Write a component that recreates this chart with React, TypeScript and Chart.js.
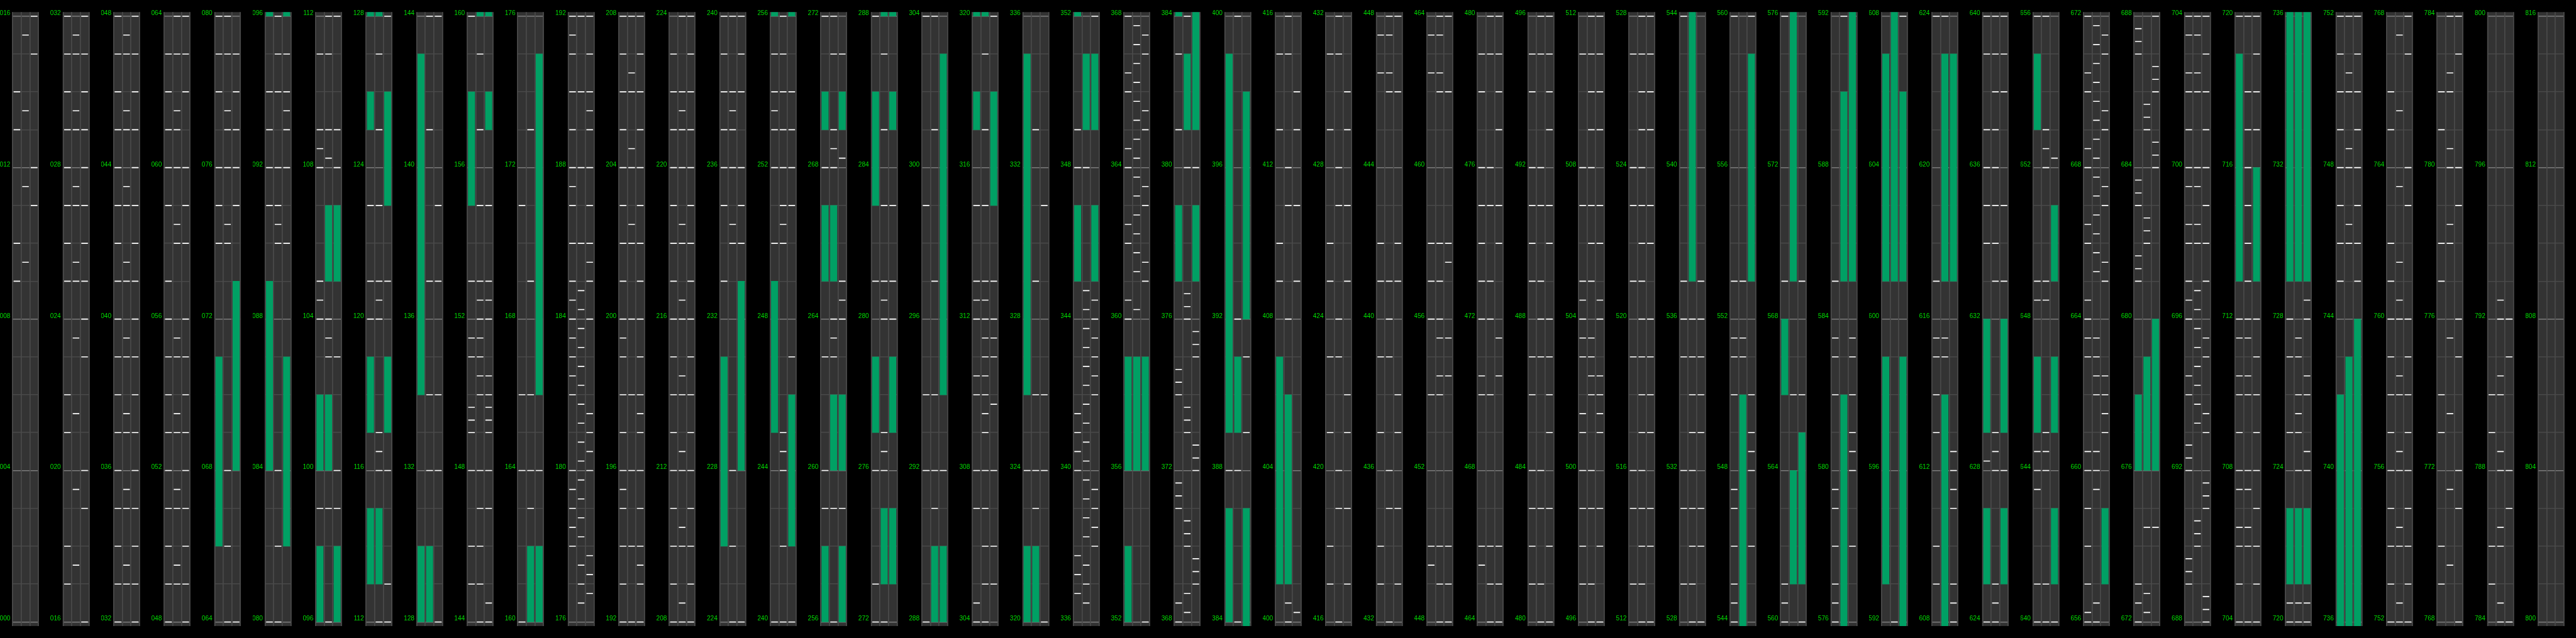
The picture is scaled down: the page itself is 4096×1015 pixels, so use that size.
import React, { useEffect, useRef } from 'react';
import { Chart, registerables } from 'chart.js';

Chart.register(...registerables);

// ---------- data (beat positions) ----------
const LANES = ['L0', 'L1', 'L2'];
const PANEL_COUNT = 51;
const PANEL_SPAN = 16;
const LABEL_STEP = 4;

const NOTES_L0 = [
  9, 10, 13, 14,
  17, 18, 21, 22, 25, 26, 27, 28, 29, 30, 31, 32,
  33, 34, 35, 36, 37, 38, 39, 40, 41, 42, 43, 44, 45, 46, 47, 48,
  49, 50, 51, 52, 53, 54, 55, 56, 57, 59, 60, 61, 62, 63,
  74, 75, 76, 78, 79, 80,
  91, 92, 93, 94,
  99, 104, 104.5, 105, 108, 108.5, 109, 111,
  120, 121, 123,
  145, 146, 148, 149, 149.33, 149.67, 151, 151.5, 153, 160,
  164, 166, 171,
  178, 178.5, 179, 179.5, 180, 182, 182.5, 183, 183.5, 184, 184.5, 185, 186, 187, 187.5, 188, 189, 190, 191, 191.5, 192,
  193, 194, 195, 195.5, 196, 197, 198, 199, 199.5, 200, 201, 202, 203, 204, 205, 206, 207, 208,
  209, 210, 211, 212, 213, 214, 215, 216, 217, 218, 219, 220, 221, 222, 223,
  233, 235, 236, 237, 238, 239, 240,
  250, 252, 253, 253.5, 254, 255,
  259, 260, 263, 268, 272,
  273, 276, 281, 288,
  292, 294, 299, 304,
  304.5, 307, 308, 310, 310.5, 312, 312.5, 313, 315,
  324,
  336.75, 337.25, 337.75, 340, 340.5, 341, 341.5, 348, 349,
  360, 360.5, 362, 362.5, 364, 364.5, 366, 366.5, 368,
  368.5, 371, 371.33, 371.67, 374, 374.33, 374.67, 381, 383,
  388,
  409, 410, 413, 415,
  417, 418, 421, 423, 425, 426, 429, 431,
  433, 434, 437, 439, 441, 442, 446.5, 447.5,
  449.5, 450, 454, 456, 457, 458, 462.5, 463.5,
  465.5, 466, 470, 470.5, 472, 473, 474, 475, 476, 478, 479,
  481, 482, 483, 484, 486, 487, 489, 490, 491, 492, 494, 495,
  497, 498, 499, 500, 501, 501.5, 503, 503.5, 504, 504.5, 505, 507, 508, 511,
  513, 515, 516, 519, 521, 523, 524, 527,
  529, 531, 532, 535, 536, 537, 544,
  544.5, 545, 546, 547, 547.5, 550, 551, 551.5, 553, 560,
  560.5, 561, 569, 576,
  576.5, 577, 578, 579, 579.5, 582, 583, 583.5, 585,
  609, 610, 613, 614, 615, 615.5, 617, 624,
  628.25, 634, 635, 636, 637, 639, 640,
  641, 643.5, 644, 644.5, 648.5, 649,
  656, 656.25, 657, 658, 659, 660, 660.5, 663, 663.5, 664, 664.5, 666, 666.5, 668, 668.5, 670, 670.5, 672,
  672.5, 673, 681, 681.33, 681.67, 683, 683.33, 683.67, 687, 687.33, 687.67,
  689, 689.33, 689.67, 692, 692.33, 692.67, 694, 694.5, 696, 696.5, 697, 698, 698.5, 699.5, 700, 701, 702, 702.5, 703.5, 704,
  705, 706, 706.5, 707.5, 708, 709, 710, 710.5, 711.5, 712, 720,
  720.5, 725, 727, 728,
  745, 746, 747, 748, 749, 750, 751, 752,
  753, 754, 755, 756, 757, 758, 759, 760, 761, 762, 765, 766,
  769, 770, 773, 774, 777, 778, 781, 782,
  785, 786, 789, 790,
];

const NOTES_L1 = [
  9.5, 11.5, 13.5, 15.5,
  17.5, 19.5, 21.5, 23.5, 25, 25.5, 27, 27.5, 29, 29.5, 31, 31.5,
  33, 33.5, 35, 35.5, 37, 37.5, 39, 39.5, 41, 41.5, 43, 43.5, 45, 45.5, 47, 47.5,
  49, 49.5, 51, 51.5, 53, 53.5, 55, 55.5, 58, 58.5, 60, 61, 61.5, 63, 64,
  66, 68, 74, 74.5, 76, 77, 77.5, 79, 80,
  82, 84, 90, 90.5, 91, 92, 94, 95, 96,
  99, 103, 103.5, 104, 108.25, 109, 111, 112,
  116, 116.5, 117, 120, 120.5, 121, 123, 125, 127,
  132, 134, 137, 141, 144,
  145, 146, 147, 148, 150, 150.5, 151, 151.5, 152, 152.5, 153, 155, 157, 159,
  163, 164, 166, 169, 173,
  176.5, 177, 177.5, 178.25, 178.75, 179.25, 179.75, 180.25, 180.75, 181.25, 181.75, 182.25, 182.75, 183.25, 183.75, 184.25, 184.75, 186, 188, 190, 192,
  194, 196, 198, 200, 202, 202.5, 204, 204.5, 206, 206.5, 208,
  208.5, 210, 210.5, 212, 212.5, 214, 214.5, 216, 216.5, 218, 218.5, 220, 221, 221.5, 222, 224,
  226, 228, 234, 234.5, 236, 237, 237.5, 238, 240,
  242, 244, 244.5, 245, 250, 250.5, 251, 252, 253, 254, 255, 256,
  259, 263, 263.5, 264, 268, 268.5, 269, 271, 272,
  276, 276.5, 277, 280, 280.5, 281, 283, 285, 287,
  291, 292, 294, 297, 301, 304,
  305, 306, 307, 308, 309, 309.5, 310, 310.5, 311, 311.5, 312, 312.5, 313, 315, 317, 319,
  323, 324, 326, 329, 333,
  336.5, 337, 337.5, 338.25, 338.75, 339.25, 339.75, 340.25, 340.75, 341.25, 341.75, 342.25, 342.75, 343.25, 343.75, 344.25, 344.75, 348,
  360.25, 361.25, 361.75, 362.25, 362.75, 363.25, 363.75, 364.25, 364.75, 365.25, 365.75, 366.25, 366.75, 367.25, 367.75,
  368.25, 368.75, 370, 370.33, 370.67, 373, 373.33, 373.67, 376, 376.33, 376.67, 380, 384,
  388, 392, 400,
  400.5, 408, 411, 412, 415, 416,
  419, 420, 423, 424, 427, 428, 431, 432,
  435, 436, 439, 440, 441, 446, 446.5, 447.5, 448,
  449, 450, 454, 454.5, 455.5, 456, 457, 458, 462, 462.5, 463.5, 464,
  465, 466, 470, 472, 473, 475, 476, 479, 480,
  481, 483, 484, 487, 488, 489, 491, 492, 495, 496,
  497, 499, 500, 502, 502.5, 503, 503.5, 505, 506, 507, 508, 509, 510, 511, 512,
  513, 514, 515, 516, 517, 518, 519, 520, 521, 522, 523, 524, 525, 526, 527, 528,
  529, 530, 531, 532, 533, 534, 535, 536,
  551, 551.5, 553,
  566,
  592,
  615, 615.5, 624,
  624.5, 625, 628, 628.5, 629, 633, 634, 635, 636, 637, 638, 639, 640,
  641, 644, 644.5, 645, 648.5, 649, 652, 652.5, 653, 656,
  656.5, 659.5, 660, 660.5, 662, 662.5, 663, 663.5, 665.25, 665.75, 666.25, 666.75, 667.25, 667.75, 668.25, 668.75, 669.25, 669.75, 670.25, 670.75, 671.25, 671.75,
  672.25, 672.75, 674.5, 682, 682.33, 682.67, 685, 685.33, 685.67,
  690, 690.33, 690.67, 693.25, 693.75, 694.25, 694.75, 695.25, 695.75, 696.25, 696.75, 698, 698.5, 699.5, 700, 702, 702.5, 703.5, 704,
  706, 706.5, 707.5, 708, 710, 710.5, 711.5, 712, 713, 714, 715, 716, 717, 718, 720,
  720.5, 724, 725, 725.5, 726, 727, 727.5,
  746, 746.5, 748, 748.5, 750, 750.5, 752,
  752.5, 754, 754.5, 756, 756.5, 758, 758.5, 760, 760.5, 761.5, 763.5, 765.5, 767.5,
  769.5, 771.5, 773.5, 775.5, 778, 778.5, 780, 780.5, 782, 782.5, 784,
  784.5, 786, 786.5, 788, 788.5, 790, 790.5, 792, 792.5,
];

const NOTES_L2 = [
  11, 12, 15, 16,
  19, 20, 23, 24, 25, 26, 27, 28, 29, 30, 31, 32,
  33, 34, 35, 36, 37, 38, 39, 40, 41, 42, 43, 44, 45, 46, 47, 48,
  49, 50, 51, 52, 53, 54, 55, 56, 58, 59, 60, 62, 63, 64,
  75, 76, 77, 78, 79,
  90, 92, 93, 93.5, 94, 95,
  99, 100, 103, 108, 109, 112,
  113, 116, 121, 128,
  132, 134, 137, 139, 144,
  144.5, 147, 148, 149, 149.33, 149.67, 150, 150.5, 152, 152.5, 153, 155,
  164,
  176.75, 177.25, 177.75, 180, 180.5, 181, 181.5, 184, 185, 185.5, 186, 187, 188, 189, 189.5, 190, 191, 192,
  193, 193.5, 194, 195, 196, 197, 197.5, 198, 199, 200, 201, 202, 203, 204, 205, 206, 207, 208,
  209, 210, 211, 212, 213, 214, 215, 216, 217, 218, 219, 220, 221, 222, 223, 224,
  234, 235, 236, 238, 239, 240,
  247, 251, 252, 253, 254,
  259, 264, 264.5, 265, 268.25, 271,
  280, 281, 283,
  292,
  305, 306, 308, 309.75, 311, 311.5, 312, 313, 320,
  324, 326, 331,
  338, 338.5, 339, 339.5, 342, 342.5, 343, 343.5, 344, 344.5, 352,
  361, 361.5, 363, 363.5, 365, 365.5, 367, 367.5,
  369, 369.33, 369.67, 372, 372.33, 372.67, 375, 375.33, 375.67, 380,
  389, 391,
  400.25, 409, 411, 413, 414,
  417, 419, 421, 422, 425, 427, 429, 430,
  433, 435, 437, 438, 441, 442, 446, 448,
  449, 450, 454.5, 455.5, 457.5, 458, 462, 464,
  465, 466, 470.5, 471.5, 474, 475, 477, 478, 479, 480,
  482, 483, 485, 486, 487, 488, 490, 491, 493, 494, 495, 496,
  498, 499, 501, 501.5, 502, 502.5, 504, 504.5, 506, 507, 509, 510, 511, 512,
  514, 515, 517, 518, 519, 520, 522, 523, 525, 526, 527, 528,
  530, 531, 533, 534, 535, 536, 537,
  546, 548, 548.5, 549, 550, 560,
  566, 569,
  578, 580, 580.5, 581, 582, 583, 583.5,
  608, 608.5, 609, 611, 611.5, 612, 612.5,
  628, 633, 635, 638, 639, 640,
  652.25,
  661, 661.5, 662, 662.5, 665, 665.5, 667, 667.5, 669, 669.5, 671, 671.5,
  674.5, 684, 684.33, 684.67, 686, 686.33, 686.67, 688,
  688.33, 688.67, 691, 691.33, 691.67, 693, 693.5, 695, 695.5, 697, 698, 699, 700, 701, 702, 703, 704,
  705, 706, 707, 708, 709, 710, 711, 712, 717, 718, 719, 720,
  720.5, 724, 724.5, 726, 726.5, 728, 728.5,
  745, 746, 747, 748, 749, 750, 751, 752,
  753, 754, 755, 756, 757, 758, 759, 760, 763, 764, 767, 768,
  771, 772, 775, 776, 779, 780, 783, 784,
  787, 788, 791, 792,
];

const HOLDS_L0 = [
  [66, 71], [84, 89], [96, 98], [100, 102], [113, 115], [117, 119], [125, 126], [128, 130],
  [134, 143], [155, 158], [226, 231], [245, 249], [256, 258], [265, 267], [269, 270], [277, 279],
  [283, 286], [317, 318], [320, 322], [326, 335], [345, 347], [352, 354], [356, 359], [377, 379],
  [384, 387], [389, 399], [401, 407], [566, 568], [593, 599], [601, 607], [625, 627], [629, 632],
  [645, 647], [653, 655], [676, 678], [713, 719], [721, 723], [729, 742],
];

const HOLDS_L1 = [
  [100, 102], [105, 107], [113, 115], [128, 130], [160, 162], [260, 262], [265, 267], [273, 275],
  [288, 290], [320, 322], [349, 351], [356, 359], [381, 383], [389, 391], [401, 406], [537, 550],
  [561, 564], [569, 582], [585, 590], [601, 614], [617, 623], [676, 679], [721, 723], [729, 743],
];

const HOLDS_L2 = [
  [68, 73], [82, 87], [96, 98], [105, 107], [117, 119], [123, 126], [157, 158], [160, 162],
  [166, 175], [228, 233], [242, 246], [256, 258], [260, 262], [269, 270], [273, 275], [277, 279],
  [285, 286], [288, 290], [294, 303], [315, 318], [345, 347], [349, 351], [356, 359], [377, 379],
  [381, 387], [392, 398], [553, 559], [561, 565], [585, 599], [601, 606], [617, 623], [625, 627],
  [629, 632], [641, 643], [645, 647], [649, 651], [657, 659], [676, 680], [713, 716], [721, 723],
  [729, 744],
];

// ---------- styling / geometry (reference pixels, scaled by S) ----------
const S = 4096 / 5100;
const REF_H = 1264;
const SLOT = 100;
const AREA_L = 25;
const AREA_R = 76;
const AREA_T = 24;
const AREA_B = 1240;
const UNIT_PX = 75;
const GRID_TOP_REF = 32;

const BG = '#000000';
const PANEL_BG = '#333333';
const GRID_MINOR = '#494949';
const GRID_MAJOR = '#7c7c7c';
const GRID_V = '#4b4b4b';
const NOTE_COLOR = '#ffffff';
const HOLD_COLOR = '#00a064';
const LABEL_COLOR = '#00dc00';
const FONT_FAMILY = "'Liberation Sans', Arial, Helvetica, sans-serif";

const NOTES = [NOTES_L0, NOTES_L1, NOTES_L2];
const HOLDS = [HOLDS_L0, HOLDS_L1, HOLDS_L2];

const panelBg = {
  id: 'panelBg',
  beforeDraw(chart: any) {
    const a = chart.chartArea;
    if (!a) return;
    const ctx = chart.ctx;
    ctx.save();
    ctx.fillStyle = PANEL_BG;
    ctx.fillRect(a.left - 1 * S, a.top, a.right - a.left + 2 * S, a.bottom - a.top);
    ctx.restore();
  },
};

function pad3(v: number) {
  return String(Math.round(v)).padStart(3, '0');
}

function Panel({ k }: { k: number }) {
  const ref = useRef<HTMLCanvasElement | null>(null);
  const left = Math.round(k * SLOT * S);
  const right = Math.round((k + 1) * SLOT * S);
  const width = right - left;
  const height = Math.round(REF_H * S);

  useEffect(() => {
    const canvas = ref.current;
    if (!canvas) return;
    const lo = k * PANEL_SPAN;
    const hi = lo + PANEL_SPAN;
    const extra = (GRID_TOP_REF - AREA_T) / UNIT_PX;
    const yMin = lo - extra;
    const yMax = hi + extra;

    const holdData: any[] = [];
    const noteData: any[] = [];
    LANES.forEach((lane, i) => {
      HOLDS[i].forEach(([a, b]) => {
        if (b > yMin && a < yMax) holdData.push({ x: lane, y: [a, b] });
      });
      NOTES[i].forEach((v) => {
        if (v >= lo - 0.01 && v <= hi + 0.01) noteData.push({ x: lane, y: v });
      });
    });

    const axisW = (AREA_L + k * SLOT) * S - left;
    const padRight = width - ((AREA_R + k * SLOT) * S - left);
    const padTop = AREA_T * S;
    const padBottom = height - AREA_B * S;

    const tickValues: number[] = [];
    for (let v = lo; v <= hi; v++) tickValues.push(v);

    const chart = new Chart(canvas, {
      type: 'bar',
      data: {
        labels: LANES,
        datasets: [
          {
            type: 'line',
            data: noteData,
            showLine: false,
            pointStyle: 'line',
            pointRadius: 6.5 * S,
            pointHoverRadius: 6.5 * S,
            pointBorderWidth: 2 * S,
            pointBorderColor: NOTE_COLOR,
            pointBackgroundColor: NOTE_COLOR,
            clip: 2,
            order: 1,
          } as any,
          {
            type: 'bar',
            data: holdData,
            backgroundColor: HOLD_COLOR,
            borderWidth: 0,
            barThickness: 13 * S,
            clip: 0,
            order: 2,
          } as any,
        ],
      },
      options: {
        animation: false,
        responsive: false,
        maintainAspectRatio: false,
        events: [],
        layout: { padding: { left: 0, right: padRight, top: padTop, bottom: padBottom } },
        plugins: { legend: { display: false }, tooltip: { enabled: false } },
        scales: {
          y: {
            type: 'linear',
            min: yMin,
            max: yMax,
            bounds: 'data',
            afterFit: (s: any) => {
              s.width = axisW;
            },
            afterBuildTicks: (s: any) => {
              s.ticks = tickValues.map((v) => ({ value: v }));
            },
            grid: {
              color: (c: any) =>
                c.tick && c.tick.value % LABEL_STEP === 0 ? GRID_MAJOR : GRID_MINOR,
              lineWidth: 2 * S,
              drawTicks: false,
            },
            border: { display: false },
            ticks: {
              autoSkip: false,
              padding: 4.6 * S,
              labelOffset: -6 * S,
              color: LABEL_COLOR,
              font: { family: FONT_FAMILY, size: 12.6 * S },
              callback: (v: any) => (Number(v) % LABEL_STEP === 0 ? pad3(Number(v)) : ''),
            },
          },
          x: {
            type: 'category',
            offset: true,
            grid: { offset: true, color: GRID_V, lineWidth: 2 * S, drawTicks: false },
            border: { display: false },
            ticks: { display: false },
            afterFit: (s: any) => {
              s.height = 0;
            },
          },
        },
      } as any,
      plugins: [panelBg],
    });
    return () => chart.destroy();
  }, [k]);

  return (
    <canvas
      ref={ref}
      width={width}
      height={height}
      style={{ position: 'absolute', left, top: 0, width, height, display: 'block' }}
    />
  );
}

export default function App() {
  useEffect(() => {
    document.body.style.margin = '0';
    document.body.style.background = BG;
  }, []);
  const panels = [];
  for (let k = 0; k < PANEL_COUNT; k++) panels.push(<Panel key={k} k={k} />);
  return (
    <div
      style={{
        position: 'fixed',
        left: 0,
        top: 0,
        width: 4096,
        height: 1015,
        background: BG,
        overflow: 'hidden',
      }}
    >
      {panels}
    </div>
  );
}
